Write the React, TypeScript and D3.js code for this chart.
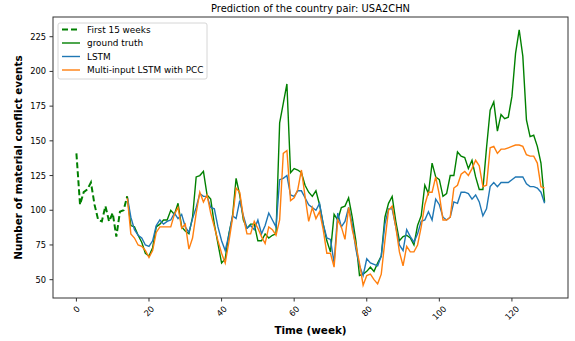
import React from 'react';
import * as d3 from 'd3';

const WIDTH = 575;
const HEIGHT = 341;
const margin = { l: 53, r: 7, t: 17, b: 43 };

// weekly counts, week 0..129
const truth = [
  141, 104, 113, 115, 120, 104, 93, 92, 103, 92,
  98, 81, 99, 100, 110, 89, 88, 82, 77, 69,
  67, 73, 88, 90, 93, 93, 100, 97, 105, 88,
  85, 83, 95, 124, 125, 128, 111, 108, 90, 76,
  62, 65, 83, 95, 123, 111, 93, 87, 90, 90,
  78, 78, 83, 80, 82, 83, 163, 177, 191, 127,
  130, 129, 127, 118, 113, 110, 114, 104, 90, 78,
  70, 97, 93, 102, 103, 109, 95, 78, 53, 54,
  56, 59, 56, 62, 67, 95, 105, 110, 92, 78,
  81, 82, 80, 75, 89, 96, 118, 112, 134, 124,
  122, 110, 112, 125, 125, 142, 139, 138, 130, 136,
  124, 115, 115, 145, 172, 178, 157, 169, 166, 167,
  182, 213, 230, 211, 165, 153, 154, 146, 134, 106,
];

// predictions start at week 14
const predStart = 14;
const lstm = [
  110, 95, 86, 82, 80, 75,
  74, 78, 89, 93, 90, 92, 93, 98, 94, 97,
  88, 84, 94, 102, 112, 110, 110, 102, 101, 88,
  78, 71, 82, 96, 94, 107, 96, 87, 89, 86,
  93, 83, 89, 98, 93, 88, 122, 123, 125, 111,
  110, 114, 114, 109, 104, 102, 100, 105, 90, 80,
  79, 62, 98, 88, 92, 102, 90, 72, 60, 53,
  65, 62, 61, 60, 67, 90, 101, 101, 88, 75,
  71, 86, 81, 77, 83, 92, 93, 99, 93, 108,
  104, 95, 93, 95, 106, 105, 113, 113, 112, 108,
  111, 106, 96, 101, 117, 120, 117, 120, 120, 120,
  122, 124, 124, 124, 119, 117, 117, 116, 113, 105,
];
const pcc = [
  110, 83, 80, 75, 74, 71,
  66, 71, 84, 88, 88, 88, 88, 97, 102, 87,
  90, 72, 80, 98, 113, 106, 111, 98, 88, 78,
  69, 62, 77, 94, 116, 113, 95, 83, 83, 92,
  87, 81, 76, 88, 86, 82, 93, 141, 143, 107,
  109, 115, 129, 110, 92, 102, 94, 99, 86, 69,
  69, 59, 93, 88, 79, 102, 86, 75, 62, 46,
  53, 54, 50, 47, 54, 78, 100, 103, 88, 70,
  60, 74, 70, 70, 75, 88, 104, 113, 113, 124,
  111, 93, 93, 95, 116, 118, 126, 128, 125, 130,
  136, 132, 117, 118, 145, 146, 141, 144, 144, 145,
  146, 147, 147, 146, 140, 139, 139, 134, 117, 116,
];

const xTicks = [0, 20, 40, 60, 80, 100, 120];
const yTicks = [50, 75, 100, 125, 150, 175, 200, 225];

const legendItems = [
  { label: 'First 15 weeks', color: 'green', dash: '6,3', width: 2 },
  { label: 'ground truth', color: 'green', dash: undefined, width: 1.4 },
  { label: 'LSTM', color: '#1f77b4', dash: undefined, width: 1.4 },
  { label: 'Multi-input LSTM with PCC', color: '#ff7f0e', dash: undefined, width: 1.4 },
];

const FONT = 'DejaVu Sans, sans-serif';

const App = () => {
  const w = WIDTH - margin.l - margin.r;
  const h = HEIGHT - margin.t - margin.b;

  // matplotlib style 5% padding
  const nWeeks = truth.length - 1;
  const xPad = nWeeks * 0.05;
  const xScale = d3.scaleLinear().domain([-xPad, nWeeks + xPad]).range([0, w]);

  const all = [...truth, ...lstm, ...pcc];
  const lo = d3.min(all) as number;
  const hi = d3.max(all) as number;
  const yPad = (hi - lo) * 0.05;
  const yScale = d3.scaleLinear().domain([lo - yPad, hi + yPad]).range([h, 0]);

  const line = d3
    .line<[number, number]>()
    .x((d) => xScale(d[0]))
    .y((d) => yScale(d[1]));

  const firstPart: [number, number][] = truth.slice(0, predStart + 1).map((v, i) => [i, v]);
  const restPart: [number, number][] = truth
    .map((v, i) => [i, v] as [number, number])
    .slice(predStart);
  const lstmPts: [number, number][] = lstm.map((v, i) => [i + predStart, v]);
  const pccPts: [number, number][] = pcc.map((v, i) => [i + predStart, v]);

  const axisColor = '#333';

  return (
    <svg
      width={WIDTH}
      height={HEIGHT}
      style={{ position: 'fixed', left: 0, top: 0, background: '#fff' }}
      fontFamily={FONT}
    >
      <text x={margin.l + w / 2} y={12} textAnchor="middle" fontSize={9.9} fill="#000">
        Prediction of the country pair: USA2CHN
      </text>
      <g transform={`translate(${margin.l}, ${margin.t})`}>
        <path d={line(restPart) || ''} fill="none" stroke="green" strokeWidth={1.4} />
        <path d={line(lstmPts) || ''} fill="none" stroke="#1f77b4" strokeWidth={1.4} />
        <path d={line(pccPts) || ''} fill="none" stroke="#ff7f0e" strokeWidth={1.4} />
        <path
          d={line(firstPart) || ''}
          fill="none"
          stroke="green"
          strokeWidth={2}
          strokeDasharray="6,3"
        />

        <rect x={0} y={0} width={w} height={h} fill="none" stroke={axisColor} strokeWidth={1} />

        {xTicks.map((t) => {
          const x = xScale(t);
          const n = String(t).length;
          const cy = h + 7 + 1.8 * n + 2.5;
          return (
            <g key={`x-${t}`}>
              <line x1={x} x2={x} y1={h} y2={h + 3.5} stroke={axisColor} />
              <text
                transform={`translate(${x}, ${cy}) rotate(-45)`}
                textAnchor="middle"
                dominantBaseline="central"
                fontSize={8.3}
                fill="#000"
              >
                {t}
              </text>
            </g>
          );
        })}
        {yTicks.map((t) => {
          const y = yScale(t);
          return (
            <g key={`y-${t}`}>
              <line x1={-3.5} x2={0} y1={y} y2={y} stroke={axisColor} />
              <text x={-7} y={y} textAnchor="end" dominantBaseline="central" fontSize={8.3} fill="#000">
                {t}
              </text>
            </g>
          );
        })}

        <g transform="translate(5, 6)">
          <rect
            x={0}
            y={0}
            width={149}
            height={56}
            rx={2}
            fill="#fff"
            fillOpacity={0.8}
            stroke="#ccc"
            strokeWidth={0.8}
          />
          {legendItems.map((item, i) => {
            const y = 6.5 + i * 13.5;
            return (
              <g key={item.label}>
                <line
                  x1={4}
                  x2={22}
                  y1={y}
                  y2={y}
                  stroke={item.color}
                  strokeWidth={item.width}
                  strokeDasharray={item.dash}
                />
                <text x={29} y={y} dominantBaseline="central" fontSize={8.9} fill="#000">
                  {item.label}
                </text>
              </g>
            );
          })}
        </g>
      </g>
      <text
        x={margin.l + w / 2}
        y={334}
        textAnchor="middle"
        fontSize={10.4}
        fontWeight="bold"
        fill="#000"
      >
        Time (week)
      </text>
      <text
        transform={`translate(22, ${margin.t + h / 2}) rotate(-90)`}
        textAnchor="middle"
        fontSize={10.4}
        fontWeight="bold"
        fill="#000"
      >
        Number of material conflict events
      </text>
    </svg>
  );
};

export default App;
